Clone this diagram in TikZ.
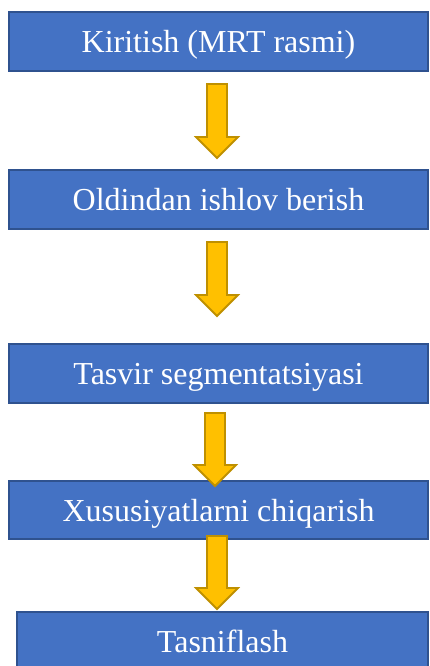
\documentclass[tikz,border=0pt]{standalone}
\usepackage{fontspec}
\setmainfont{Liberation Serif}
\usetikzlibrary{calc}
\definecolor{boxfill}{HTML}{4472C4}
\definecolor{boxline}{HTML}{2F528F}
\definecolor{arrfill}{HTML}{FFC000}
\definecolor{arrline}{HTML}{BF9000}
\tikzset{
  stepbox/.style={draw=boxline, fill=boxfill, line width=1.6pt, text=white,
    minimum height=59pt, inner sep=0pt, text height=27pt, text depth=5pt,
    font=\fontsize{32}{36}\selectfont},
  blockarr/.style={draw=arrline, fill=arrfill, line width=1.8pt, line join=miter}
}
\newcommand{\blockarrow}[4]{% name, x, ytop, ytip
  \path (#2,#3) coordinate (#1top) (#2,#4) coordinate (#1tip);
  \draw[blockarr] ($(#1top)+(-10,0)$) -- ($(#1top)+(10,0)$) -- ($(#1tip)+(10,-21)$)
    -- ($(#1tip)+(21,-21)$) -- (#1tip) -- ($(#1tip)+(-21,-21)$) -- ($(#1tip)+(-10,-21)$) -- cycle;
}
\begin{document}
\begin{tikzpicture}[x=1pt,y=-1pt]
\useasboundingbox (0,0) rectangle (429,666);
\node[stepbox, minimum width=419pt] (b1) at (218.5,41.5) {Kiritish (MRT rasmi)};
\node[stepbox, minimum width=419pt] (b2) at (218.5,199.5) {Oldindan ishlov berish};
\node[stepbox, minimum width=419pt] (b3) at (218.5,373.5) {Tasvir segmentatsiyasi};
\node[stepbox, minimum width=419pt, minimum height=58pt] (b4) at (218.5,510) {Xususiyatlarni chiqarish};
\node[stepbox, minimum width=411pt] (b5) at (222.5,641.5) {Tasniflash};
\blockarrow{a1}{217}{84}{158}
\blockarrow{a2}{217}{242}{316}
\blockarrow{a3}{215}{413}{486}
\blockarrow{a4}{217}{536}{609}
\end{tikzpicture}
\end{document}
